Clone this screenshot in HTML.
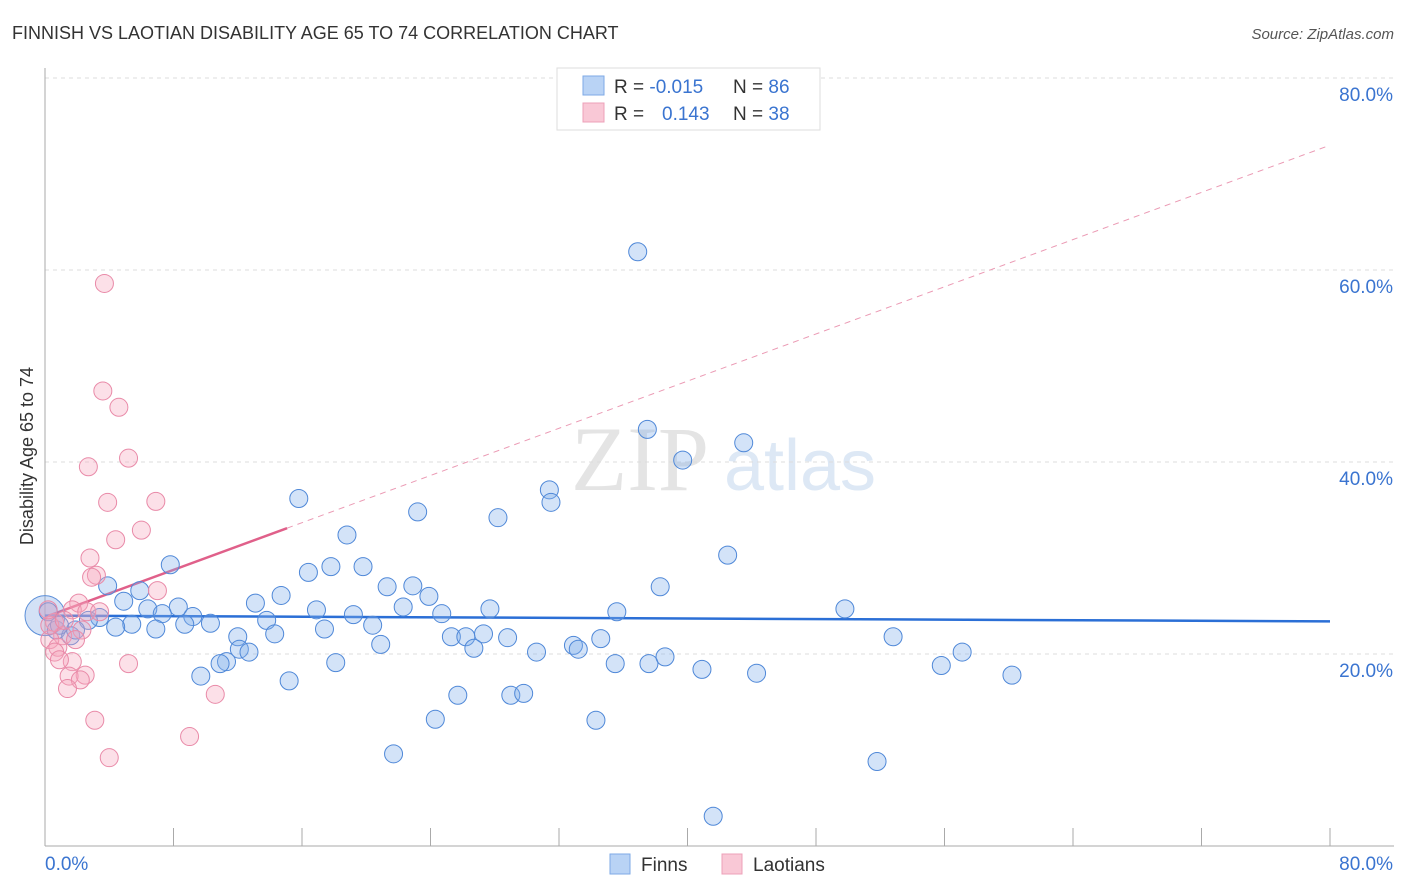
<!DOCTYPE html>
<html><head><meta charset="utf-8">
<style>
body{margin:0;background:#fff;font-family:"Liberation Sans",sans-serif;}
#wrap{position:relative;width:1406px;height:892px;overflow:hidden;}
</style></head>
<body>
<div id="wrap">
<svg id="chart" width="1406" height="892" xmlns="http://www.w3.org/2000/svg">
<text x="12" y="39" font-size="18" fill="#333">FINNISH VS LAOTIAN DISABILITY AGE 65 TO 74 CORRELATION CHART</text>
<text x="1394" y="39" font-size="15" fill="#555" font-style="italic" text-anchor="end">Source: ZipAtlas.com</text>
<text x="640" y="490" font-size="92" fill="#e4e4e4" font-family="Liberation Serif,serif" text-anchor="middle">ZIP</text>
<text x="800" y="490" font-size="72" fill="#dde8f5" text-anchor="middle">atlas</text>
<text transform="translate(33,456) rotate(-90)" font-size="18" fill="#333" text-anchor="middle">Disability Age 65 to 74</text>
<g id="grid"></g><g id="axes"></g><g id="trend"></g><g id="pts"></g>
<g>
<rect x="557" y="68" width="263" height="62" fill="#fff" stroke="#ddd"/>
<rect x="583" y="76" width="21" height="19" fill="#b9d3f5" stroke="#7eaae6"/>
<rect x="583" y="103" width="21" height="19" fill="#f9c8d6" stroke="#eda0b8"/>
<text x="614" y="93" font-size="19" fill="#333">R = <tspan fill="#3a74d0">-0.015</tspan><tspan x="733">N = </tspan><tspan fill="#3a74d0">86</tspan></text>
<text x="614" y="120" font-size="19" fill="#333">R = <tspan x="662" fill="#3a74d0">0.143</tspan><tspan x="733">N = </tspan><tspan fill="#3a74d0">38</tspan></text>
</g>
<g>
<rect x="610" y="854" width="20" height="20" fill="#b9d3f5" stroke="#7eaae6"/>
<text x="641" y="871" font-size="19" fill="#333">Finns</text>
<rect x="722" y="854" width="20" height="20" fill="#f9c8d6" stroke="#eda0b8"/>
<text x="753" y="871" font-size="19" fill="#333">Laotians</text>
</g>
</svg>
</div>
<script>
const finnsX=[36.9,37.5,43.5,39.7,31.4,31.5,15.8,23.2,28.2,18.8,42.5,7.8,16.4,17.8,19.8,3.9,5.9,21.3,22.9,38.3,23.9,4.9,13.1,14.7,8.3,6.4,22.3,27.7,35.6,49.8,7.3,9.2,16.9,19.2,24.7,3.4,2.7,13.8,8.7,10.3,20.4,5.4,4.4,6.9,17.4,14.3,12.0,25.3,26.2,27.3,28.8,34.6,52.8,32.9,20.9,12.1,12.7,26.7,33.2,30.6,57.1,0.7,1.6,11.3,10.9,18.1,35.5,37.6,38.6,40.9,55.8,44.3,60.2,9.7,15.2,25.7,29.0,29.8,24.3,34.3,21.7,51.8,41.6,0.2,0.9,1.9];
const finnsY=[61.9,43.4,42.0,40.2,37.1,35.8,36.2,34.8,34.2,32.4,30.3,29.3,28.5,29.1,29.1,27.1,26.6,27.0,27.1,27.0,26.0,25.5,25.3,26.1,24.9,24.7,24.9,24.7,24.4,24.7,24.2,23.9,24.6,24.1,24.2,23.8,23.5,23.5,23.1,23.2,23.0,23.1,22.8,22.6,22.6,22.1,21.8,21.8,21.8,22.1,21.7,21.6,21.8,20.9,21.0,20.5,20.2,20.6,20.5,20.2,20.2,22.5,21.9,19.2,19.0,19.1,19.0,19.0,19.7,18.4,18.8,18.0,17.8,17.7,17.2,15.7,15.7,15.9,13.2,13.1,9.6,8.8,3.1,24.4,23.0,22.5];
const laoX=[3.7,3.6,4.6,5.2,2.7,3.9,6.9,4.4,6.0,2.8,3.2,2.9,7.0,2.1,1.7,2.6,0.6,2.3,1.1,0.3,0.8,0.6,1.7,0.9,2.5,1.5,2.2,5.2,1.4,10.6,3.1,9.0,4.0,0.3,1.2,1.9,0.2,3.4];
const laoY=[58.6,47.4,45.7,40.4,39.5,35.8,35.9,31.9,32.9,30.0,28.2,28.0,26.6,25.3,24.6,24.4,23.3,22.5,21.9,21.5,20.7,20.2,19.2,19.4,17.8,17.7,17.3,19.0,16.4,15.8,13.1,11.4,9.2,23.0,23.5,21.5,24.6,24.4];
const yTicks=[20,40,60,80];
const xTickVals=[0,8,16,24,32,40,48,56,64,72,80];
const finnsTrend=[24.0,23.4];
const laoTrend=[23.85,73.0];
const laoSolidEnd=15.07;

const NS="http://www.w3.org/2000/svg";
const sx=v=>45+v/80*1285;
const sy=v=>846-v*9.6;
function mk(tag,attrs,parent){const e=document.createElementNS(NS,tag);for(const k in attrs)e.setAttribute(k,attrs[k]);parent.appendChild(e);return e;}
const grid=document.getElementById('grid'),axes=document.getElementById('axes'),trend=document.getElementById('trend'),pts=document.getElementById('pts');
yTicks.forEach(t=>{
  const l=mk('line',{x1:45,x2:1394,y1:sy(t),y2:sy(t),stroke:'#ddd','stroke-dasharray':'4,4'},grid);
  
  
  const tx=mk('text',{x:1393,y:sy(t)+23,'font-size':19,fill:'#3a74d0','text-anchor':'end'},axes);
  tx.textContent=t.toFixed(1)+'%';
  
  
});
const ya=mk('line',{x1:45,x2:45,y1:68,y2:846,stroke:'#aaa'},axes);


const xa=mk('line',{x1:45,x2:1394,y1:846,y2:846,stroke:'#aaa'},axes);


xTickVals.forEach(t=>{
  const l=mk('line',{x1:sx(t),x2:sx(t),y1:828,y2:846,stroke:'#aaa'},axes);
  
  
});
[[0,'start',45],[80,'end',1393]].forEach(([v,a,x])=>{
  const tx=mk('text',{x:x,y:870,'font-size':19,fill:'#3a74d0','text-anchor':a},axes);
  tx.textContent=v.toFixed(1)+'%';
  
  
});
const lt=v=>laoTrend[0]+(laoTrend[1]-laoTrend[0])*v/80;
const pd=mk('line',{x1:sx(laoSolidEnd),y1:sy(lt(laoSolidEnd)),x2:sx(80),y2:sy(laoTrend[1]),stroke:'#eb9ab4','stroke-dasharray':'6,5','stroke-width':1},trend);


const ps=mk('line',{x1:sx(0),y1:sy(laoTrend[0]),x2:sx(laoSolidEnd),y2:sy(lt(laoSolidEnd)),stroke:'#e0608a','stroke-width':2.5},trend);


const big=mk('circle',{cx:sx(0),cy:sy(24.0),r:20,fill:'rgba(130,170,230,0.35)',stroke:'#5a8ed8'},pts);


finnsX.forEach((x,i)=>{
  const c=mk('circle',{cx:sx(x),cy:sy(finnsY[i]),r:9,fill:'rgba(130,175,235,0.35)',stroke:'#4f88d8','stroke-width':1},pts);
  
  
});
laoX.forEach((x,i)=>{
  const c=mk('circle',{cx:sx(x),cy:sy(laoY[i]),r:9,fill:'rgba(245,165,190,0.35)',stroke:'#e98aa8','stroke-width':1},pts);
  
  
});
const bt=mk('line',{x1:sx(0),y1:sy(finnsTrend[0]),x2:sx(80),y2:sy(finnsTrend[1]),stroke:'#2b6fd6','stroke-width':2.5},trend);


</script>
</body></html>
